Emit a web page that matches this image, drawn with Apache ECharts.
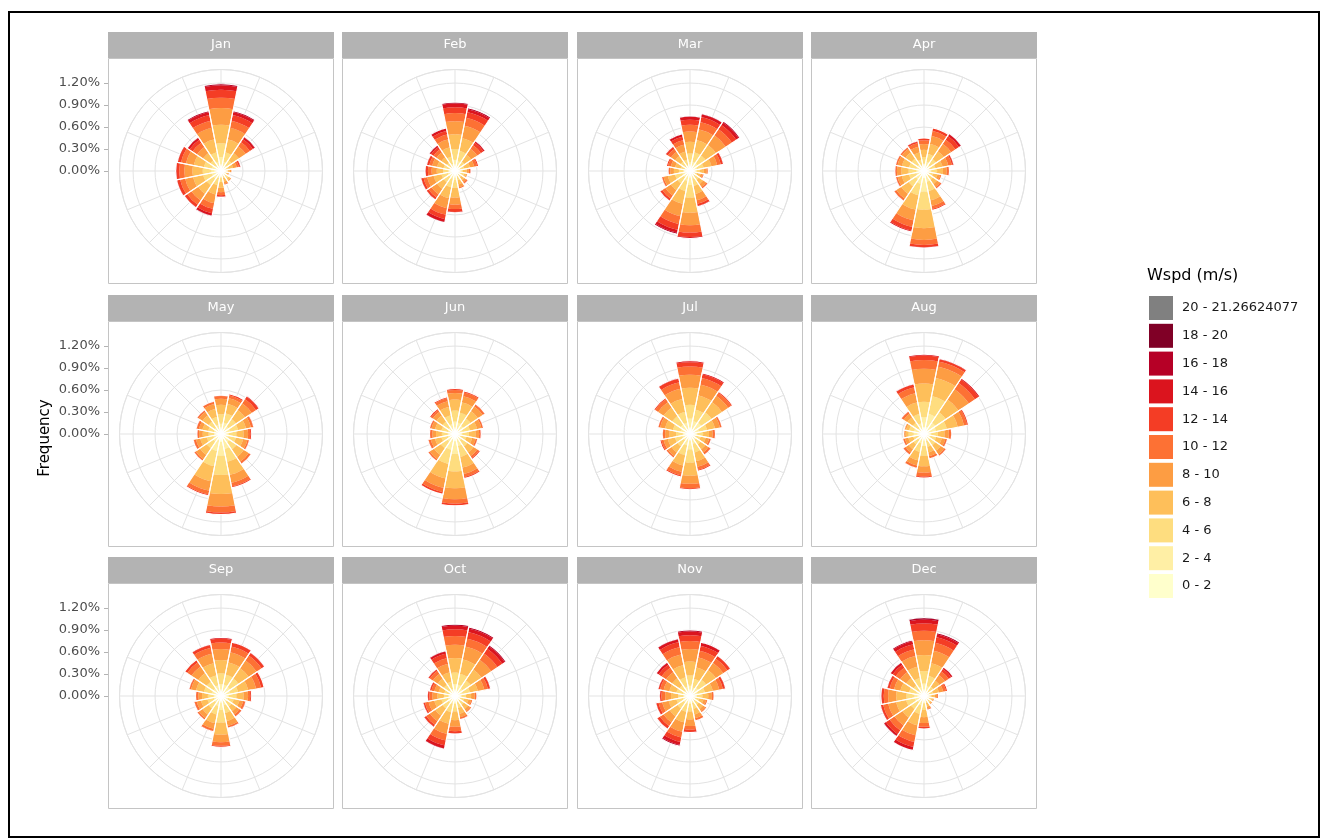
<!DOCTYPE html>
<html>
<head>
<meta charset="utf-8">
<script src="https://cdn.jsdelivr.net/npm/echarts@6/dist/echarts.min.js"></script>
<style>
html, body { margin: 0; padding: 0; background: #fff; }
#chart { width: 1322px; height: 838px; }
</style>
</head>
<body>
<div id="chart"></div>
<script>
// ---- data -------------------------------------------------------------
const months = ['Jan', 'Feb', 'Mar', 'Apr', 'May', 'Jun', 'Jul', 'Aug', 'Sep', 'Oct', 'Nov', 'Dec'];
const directions = ['N', 'NNE', 'NE', 'ENE', 'E', 'ESE', 'SE', 'SSE', 'S', 'SSW', 'SW', 'WSW', 'W', 'WNW', 'NW', 'NNW'];
const speedBins = ['0 - 2', '2 - 4', '4 - 6', '6 - 8', '8 - 10', '10 - 12', '12 - 14', '14 - 16', '16 - 18', '18 - 20', '20 - 21.26624077'];
const binColors = ['#FFFFCC', '#FFEFA5', '#FEDD7F', '#FEBF5A', '#FD9D43', '#FD7134', '#F43D25', '#DB141E', '#B60026', '#800026', '#808080'];
const radialTicks = [0, 0.3, 0.6, 0.9, 1.2]; // frequency, %

// Frequency (%) for each direction (N ... NNW); each row lists the speed bins
// from 0 - 2 upward, bins left out are empty.
const jan = [
  [0.07, 0.12, 0.19, 0.25, 0.23, 0.14, 0.11, 0.06, 0.02],
  [0.05, 0.08, 0.13, 0.18, 0.16, 0.10, 0.08, 0.04, 0.02],
  [0.03, 0.06, 0.09, 0.12, 0.11, 0.07, 0.05, 0.03, 0.01],
  [0.02, 0.04, 0.05, 0.06, 0.05, 0.03, 0.02, 0.01],
  [0.02, 0.03, 0.04, 0.03, 0.02, 0.01],
  [0.02, 0.03, 0.03, 0.02, 0.01, 0.01],
  [0.03, 0.05, 0.05, 0.03, 0.01, 0.01],
  [0.02, 0.03, 0.05, 0.05, 0.03, 0.01, 0.01],
  [0.03, 0.05, 0.07, 0.08, 0.06, 0.04, 0.02, 0.01],
  [0.04, 0.06, 0.10, 0.13, 0.12, 0.08, 0.06, 0.03, 0.01],
  [0.05, 0.08, 0.11, 0.14, 0.11, 0.07, 0.04, 0.01],
  [0.05, 0.08, 0.12, 0.14, 0.11, 0.07, 0.04, 0.01],
  [0.05, 0.08, 0.12, 0.14, 0.11, 0.07, 0.04, 0.01],
  [0.05, 0.08, 0.11, 0.14, 0.11, 0.07, 0.04, 0.01],
  [0.03, 0.06, 0.09, 0.12, 0.10, 0.07, 0.05, 0.03, 0.01],
  [0.05, 0.08, 0.13, 0.18, 0.16, 0.10, 0.08, 0.04, 0.02]
];
const feb = [
  [0.06, 0.09, 0.15, 0.20, 0.18, 0.11, 0.08, 0.05, 0.02],
  [0.05, 0.09, 0.14, 0.18, 0.17, 0.11, 0.08, 0.04, 0.02],
  [0.03, 0.05, 0.08, 0.11, 0.10, 0.06, 0.04, 0.02, 0.01],
  [0.03, 0.04, 0.06, 0.08, 0.06, 0.04, 0.02],
  [0.02, 0.04, 0.05, 0.05, 0.03, 0.02, 0.01],
  [0.03, 0.05, 0.05, 0.03, 0.01, 0.01],
  [0.02, 0.04, 0.05, 0.05, 0.03, 0.02, 0.01],
  [0.03, 0.04, 0.06, 0.06, 0.04, 0.02],
  [0.05, 0.07, 0.11, 0.13, 0.10, 0.06, 0.04, 0.01],
  [0.04, 0.07, 0.12, 0.15, 0.14, 0.09, 0.06, 0.04, 0.01],
  [0.04, 0.06, 0.09, 0.11, 0.09, 0.05, 0.03, 0.01],
  [0.04, 0.06, 0.09, 0.11, 0.09, 0.05, 0.03, 0.01],
  [0.03, 0.05, 0.08, 0.09, 0.07, 0.05, 0.03, 0.01],
  [0.03, 0.05, 0.08, 0.09, 0.07, 0.04, 0.03, 0.01],
  [0.03, 0.04, 0.07, 0.09, 0.08, 0.05, 0.04, 0.02, 0.01],
  [0.04, 0.06, 0.10, 0.13, 0.11, 0.07, 0.05, 0.03, 0.01]
];
const mar = [
  [0.05, 0.07, 0.12, 0.16, 0.14, 0.09, 0.07, 0.04, 0.01],
  [0.05, 0.08, 0.13, 0.17, 0.15, 0.10, 0.07, 0.04, 0.01],
  [0.05, 0.08, 0.13, 0.17, 0.16, 0.10, 0.07, 0.04, 0.02],
  [0.04, 0.06, 0.09, 0.11, 0.08, 0.05, 0.03, 0.01],
  [0.03, 0.04, 0.06, 0.06, 0.04, 0.02],
  [0.02, 0.03, 0.05, 0.05, 0.03, 0.01, 0.01],
  [0.03, 0.05, 0.07, 0.07, 0.05, 0.02, 0.01],
  [0.04, 0.07, 0.10, 0.11, 0.09, 0.05, 0.03, 0.01],
  [0.07, 0.12, 0.17, 0.21, 0.17, 0.10, 0.06, 0.02],
  [0.05, 0.09, 0.14, 0.18, 0.17, 0.11, 0.08, 0.04, 0.02],
  [0.04, 0.07, 0.10, 0.11, 0.09, 0.05, 0.03, 0.01],
  [0.04, 0.07, 0.10, 0.10, 0.06, 0.02, 0.01],
  [0.03, 0.05, 0.07, 0.07, 0.05, 0.02, 0.01],
  [0.03, 0.04, 0.06, 0.08, 0.06, 0.04, 0.02],
  [0.03, 0.05, 0.08, 0.09, 0.07, 0.05, 0.03, 0.01],
  [0.03, 0.05, 0.08, 0.11, 0.10, 0.06, 0.05, 0.03, 0.01]
];
const apr = [
  [0.04, 0.06, 0.09, 0.10, 0.08, 0.05, 0.03],
  [0.05, 0.08, 0.11, 0.14, 0.11, 0.07, 0.04],
  [0.04, 0.06, 0.10, 0.13, 0.12, 0.07, 0.06, 0.03, 0.01],
  [0.03, 0.05, 0.08, 0.10, 0.08, 0.05, 0.02, 0.01],
  [0.04, 0.06, 0.08, 0.08, 0.05, 0.03, 0.01],
  [0.03, 0.04, 0.06, 0.06, 0.04, 0.02],
  [0.03, 0.05, 0.07, 0.07, 0.05, 0.02, 0.01],
  [0.06, 0.09, 0.13, 0.13, 0.08, 0.04, 0.02],
  [0.10, 0.18, 0.25, 0.25, 0.16, 0.07, 0.03, 0.01],
  [0.07, 0.11, 0.16, 0.20, 0.15, 0.09, 0.05, 0.02],
  [0.05, 0.09, 0.12, 0.12, 0.08, 0.03, 0.01],
  [0.04, 0.07, 0.10, 0.10, 0.06, 0.02, 0.01],
  [0.04, 0.07, 0.10, 0.10, 0.06, 0.02, 0.01],
  [0.04, 0.07, 0.10, 0.10, 0.06, 0.02, 0.01],
  [0.04, 0.07, 0.10, 0.10, 0.06, 0.02, 0.01],
  [0.03, 0.05, 0.08, 0.10, 0.08, 0.05, 0.02, 0.01]
];
const may = [
  [0.05, 0.09, 0.13, 0.13, 0.08, 0.04, 0.01],
  [0.06, 0.10, 0.13, 0.13, 0.08, 0.04, 0.02],
  [0.05, 0.08, 0.12, 0.15, 0.11, 0.07, 0.04, 0.01],
  [0.05, 0.08, 0.11, 0.11, 0.07, 0.03, 0.01],
  [0.04, 0.07, 0.10, 0.10, 0.06, 0.03, 0.02],
  [0.04, 0.07, 0.10, 0.10, 0.06, 0.02, 0.01],
  [0.05, 0.09, 0.12, 0.12, 0.08, 0.03, 0.01],
  [0.08, 0.13, 0.18, 0.18, 0.11, 0.05, 0.02],
  [0.11, 0.19, 0.26, 0.26, 0.17, 0.08, 0.03],
  [0.09, 0.15, 0.21, 0.21, 0.13, 0.05, 0.02],
  [0.05, 0.08, 0.11, 0.11, 0.07, 0.02, 0.01],
  [0.04, 0.07, 0.09, 0.09, 0.06, 0.03, 0.01],
  [0.03, 0.06, 0.08, 0.08, 0.05, 0.02, 0.01],
  [0.04, 0.06, 0.08, 0.08, 0.05, 0.03, 0.01],
  [0.04, 0.07, 0.10, 0.10, 0.06, 0.02, 0.01],
  [0.05, 0.08, 0.11, 0.11, 0.07, 0.03, 0.01]
];
const jun = [
  [0.06, 0.11, 0.15, 0.15, 0.09, 0.04, 0.02],
  [0.06, 0.10, 0.14, 0.14, 0.09, 0.05, 0.02],
  [0.05, 0.09, 0.12, 0.12, 0.08, 0.03, 0.01],
  [0.04, 0.07, 0.10, 0.10, 0.06, 0.02, 0.01],
  [0.04, 0.06, 0.09, 0.09, 0.05, 0.02, 0.01],
  [0.03, 0.05, 0.08, 0.08, 0.05, 0.02, 0.01],
  [0.04, 0.07, 0.10, 0.10, 0.06, 0.03, 0.02],
  [0.06, 0.11, 0.15, 0.15, 0.09, 0.04, 0.02],
  [0.10, 0.17, 0.24, 0.23, 0.15, 0.06, 0.03],
  [0.08, 0.14, 0.20, 0.20, 0.13, 0.06, 0.03],
  [0.05, 0.08, 0.11, 0.11, 0.07, 0.02, 0.01],
  [0.04, 0.06, 0.09, 0.09, 0.06, 0.03, 0.01],
  [0.04, 0.06, 0.08, 0.08, 0.05, 0.03, 0.01],
  [0.04, 0.06, 0.09, 0.09, 0.05, 0.02, 0.01],
  [0.04, 0.07, 0.10, 0.10, 0.06, 0.03, 0.02],
  [0.05, 0.09, 0.12, 0.12, 0.08, 0.04, 0.02]
];
const jul = [
  [0.08, 0.13, 0.19, 0.23, 0.18, 0.11, 0.06, 0.02],
  [0.07, 0.11, 0.16, 0.20, 0.15, 0.09, 0.05, 0.02],
  [0.07, 0.12, 0.17, 0.17, 0.10, 0.05, 0.02],
  [0.05, 0.08, 0.11, 0.11, 0.07, 0.02, 0.01],
  [0.04, 0.06, 0.08, 0.08, 0.05, 0.03, 0.01],
  [0.03, 0.05, 0.07, 0.07, 0.05, 0.02, 0.01],
  [0.04, 0.06, 0.08, 0.08, 0.05, 0.03, 0.01],
  [0.05, 0.09, 0.12, 0.12, 0.08, 0.04, 0.02],
  [0.08, 0.13, 0.18, 0.18, 0.11, 0.06, 0.02],
  [0.06, 0.10, 0.14, 0.14, 0.09, 0.05, 0.02],
  [0.04, 0.07, 0.10, 0.10, 0.06, 0.02, 0.01],
  [0.04, 0.07, 0.10, 0.10, 0.06, 0.03, 0.02],
  [0.04, 0.06, 0.09, 0.09, 0.06, 0.03, 0.01],
  [0.05, 0.08, 0.11, 0.11, 0.07, 0.02, 0.01],
  [0.06, 0.10, 0.14, 0.14, 0.09, 0.05, 0.02],
  [0.06, 0.10, 0.15, 0.18, 0.14, 0.09, 0.05, 0.01]
];
const aug = [
  [0.09, 0.14, 0.21, 0.25, 0.20, 0.12, 0.06, 0.02],
  [0.10, 0.18, 0.25, 0.25, 0.16, 0.07, 0.03, 0.01],
  [0.07, 0.12, 0.17, 0.21, 0.17, 0.10, 0.06, 0.02],
  [0.06, 0.11, 0.15, 0.15, 0.09, 0.04, 0.02],
  [0.04, 0.06, 0.09, 0.09, 0.06, 0.03, 0.01],
  [0.03, 0.06, 0.08, 0.08, 0.05, 0.02, 0.01],
  [0.04, 0.06, 0.09, 0.09, 0.06, 0.02, 0.01],
  [0.04, 0.06, 0.08, 0.08, 0.05, 0.03, 0.01],
  [0.06, 0.10, 0.14, 0.14, 0.09, 0.05, 0.02],
  [0.05, 0.08, 0.12, 0.12, 0.07, 0.03, 0.01],
  [0.04, 0.06, 0.08, 0.08, 0.05, 0.03, 0.01],
  [0.03, 0.05, 0.07, 0.07, 0.05, 0.02, 0.01],
  [0.06, 0.08, 0.07, 0.04, 0.02, 0.01],
  [0.06, 0.08, 0.07, 0.04, 0.02, 0.01],
  [0.04, 0.06, 0.09, 0.09, 0.06, 0.03, 0.01],
  [0.06, 0.09, 0.13, 0.16, 0.13, 0.08, 0.04, 0.01]
];
const sep = [
  [0.06, 0.10, 0.15, 0.18, 0.15, 0.09, 0.05, 0.02],
  [0.06, 0.10, 0.14, 0.17, 0.14, 0.08, 0.05, 0.01],
  [0.06, 0.09, 0.14, 0.17, 0.13, 0.08, 0.04, 0.01],
  [0.05, 0.08, 0.11, 0.14, 0.11, 0.07, 0.04],
  [0.04, 0.07, 0.10, 0.10, 0.06, 0.03, 0.02],
  [0.04, 0.06, 0.08, 0.08, 0.05, 0.03, 0.01],
  [0.04, 0.06, 0.08, 0.08, 0.05, 0.03, 0.01],
  [0.05, 0.08, 0.11, 0.11, 0.07, 0.02, 0.01],
  [0.07, 0.12, 0.17, 0.17, 0.10, 0.05, 0.02],
  [0.05, 0.09, 0.12, 0.12, 0.08, 0.03, 0.01],
  [0.04, 0.07, 0.10, 0.10, 0.06, 0.02, 0.01],
  [0.04, 0.06, 0.09, 0.09, 0.06, 0.03, 0.01],
  [0.04, 0.06, 0.08, 0.08, 0.05, 0.03, 0.01],
  [0.05, 0.08, 0.11, 0.11, 0.07, 0.02, 0.01],
  [0.05, 0.08, 0.11, 0.14, 0.11, 0.07, 0.04],
  [0.06, 0.09, 0.14, 0.17, 0.13, 0.08, 0.04, 0.01]
];
const oct = [
  [0.06, 0.10, 0.16, 0.20, 0.18, 0.12, 0.09, 0.05, 0.02],
  [0.06, 0.10, 0.15, 0.20, 0.18, 0.11, 0.09, 0.05, 0.02],
  [0.05, 0.08, 0.13, 0.18, 0.16, 0.10, 0.08, 0.04, 0.02],
  [0.04, 0.07, 0.10, 0.11, 0.09, 0.05, 0.03, 0.01],
  [0.03, 0.05, 0.07, 0.07, 0.05, 0.02, 0.01],
  [0.03, 0.04, 0.06, 0.06, 0.04, 0.02],
  [0.03, 0.05, 0.07, 0.07, 0.04, 0.02],
  [0.03, 0.06, 0.08, 0.08, 0.05, 0.02, 0.01],
  [0.04, 0.07, 0.10, 0.12, 0.09, 0.06, 0.03, 0.01],
  [0.04, 0.07, 0.12, 0.16, 0.14, 0.09, 0.07, 0.04, 0.01],
  [0.04, 0.07, 0.10, 0.12, 0.09, 0.06, 0.03, 0.01],
  [0.04, 0.06, 0.09, 0.10, 0.08, 0.05, 0.02, 0.01],
  [0.03, 0.05, 0.07, 0.09, 0.07, 0.04, 0.02, 0.01],
  [0.03, 0.05, 0.07, 0.08, 0.06, 0.04, 0.02, 0.01],
  [0.04, 0.06, 0.09, 0.10, 0.08, 0.05, 0.02, 0.01],
  [0.04, 0.06, 0.10, 0.13, 0.12, 0.08, 0.06, 0.03, 0.01]
];
const nov = [
  [0.05, 0.09, 0.14, 0.19, 0.17, 0.11, 0.08, 0.05, 0.02],
  [0.05, 0.07, 0.12, 0.16, 0.14, 0.09, 0.07, 0.04, 0.01],
  [0.05, 0.09, 0.13, 0.16, 0.12, 0.07, 0.04, 0.01],
  [0.04, 0.07, 0.10, 0.11, 0.09, 0.05, 0.03, 0.01],
  [0.03, 0.06, 0.08, 0.08, 0.05, 0.02, 0.01],
  [0.03, 0.04, 0.06, 0.06, 0.04, 0.02],
  [0.03, 0.05, 0.07, 0.07, 0.04, 0.02],
  [0.04, 0.06, 0.08, 0.08, 0.05, 0.03, 0.01],
  [0.04, 0.07, 0.10, 0.11, 0.09, 0.05, 0.03, 0.01],
  [0.04, 0.07, 0.11, 0.15, 0.13, 0.08, 0.06, 0.04, 0.02],
  [0.04, 0.07, 0.10, 0.13, 0.10, 0.06, 0.04, 0.01],
  [0.04, 0.06, 0.09, 0.11, 0.09, 0.05, 0.03, 0.01],
  [0.03, 0.05, 0.08, 0.10, 0.08, 0.05, 0.02, 0.01],
  [0.04, 0.06, 0.09, 0.10, 0.08, 0.05, 0.02, 0.01],
  [0.03, 0.06, 0.09, 0.12, 0.10, 0.07, 0.05, 0.03, 0.01],
  [0.05, 0.08, 0.13, 0.17, 0.15, 0.10, 0.07, 0.04, 0.01]
];
const dec = [
  [0.06, 0.11, 0.17, 0.22, 0.20, 0.13, 0.10, 0.05, 0.02, 0.01],
  [0.05, 0.09, 0.14, 0.18, 0.17, 0.11, 0.08, 0.04, 0.02],
  [0.03, 0.05, 0.08, 0.10, 0.09, 0.06, 0.04, 0.02, 0.01],
  [0.03, 0.04, 0.06, 0.08, 0.06, 0.04, 0.02],
  [0.02, 0.03, 0.05, 0.05, 0.03, 0.01, 0.01],
  [0.03, 0.04, 0.04, 0.02, 0.01, 0.01],
  [0.03, 0.04, 0.04, 0.02, 0.01, 0.01],
  [0.02, 0.03, 0.05, 0.05, 0.03, 0.01, 0.01],
  [0.04, 0.06, 0.09, 0.10, 0.08, 0.05, 0.02, 0.01],
  [0.05, 0.08, 0.12, 0.16, 0.14, 0.09, 0.07, 0.04, 0.01],
  [0.04, 0.07, 0.11, 0.14, 0.13, 0.08, 0.06, 0.03, 0.01],
  [0.05, 0.08, 0.12, 0.14, 0.11, 0.07, 0.03, 0.01],
  [0.05, 0.08, 0.11, 0.14, 0.11, 0.06, 0.03, 0.01],
  [0.04, 0.07, 0.10, 0.12, 0.09, 0.06, 0.03, 0.01],
  [0.03, 0.06, 0.09, 0.12, 0.10, 0.07, 0.05, 0.03, 0.01],
  [0.05, 0.08, 0.12, 0.16, 0.15, 0.09, 0.07, 0.04, 0.02]
];
const monthData = [jan, feb, mar, apr, may, jun, jul, aug, sep, oct, nov, dec];

// ---- layout -----------------------------------------------------------
const FONT = "'DejaVu Sans', Verdana, sans-serif";
const colX = [221, 455, 690, 924];   // panel centres
const rowY = [171, 434, 696];
const HALF = 113;                    // half panel size
const STRIP_H = 26;
const R = 101.5;                     // outer grid circle radius (px)
const R_MAX = 1.385;                 // radial value at the outer circle
const GRID_COLOR = '#E3E3E3';
const tickStep = radialTicks[1] - radialTicks[0];
const tickTop = radialTicks[radialTicks.length - 1];

const polar = [], angleAxis = [], radiusAxis = [], series = [], graphic = [];

// frame round the whole figure
graphic.push({
  type: 'rect', silent: true, z: 100,
  shape: { x: 9, y: 12, width: 1310, height: 825 },
  style: { fill: null, stroke: '#000', lineWidth: 2 }
});

months.forEach((m, i) => {
  const cx = colX[i % 4], cy = rowY[Math.floor(i / 4)];

  // panel box and facet strip
  graphic.push({
    type: 'rect', silent: true, z: -10,
    shape: { x: cx - HALF + 0.5, y: cy - HALF + 0.5, width: 2 * HALF - 1, height: 2 * HALF - 1 },
    style: { fill: null, stroke: '#C4C4C4', lineWidth: 1 }
  });
  graphic.push({
    type: 'rect', silent: true, z: -10,
    shape: { x: cx - HALF, y: cy - HALF - STRIP_H, width: 2 * HALF, height: STRIP_H },
    style: { fill: '#B3B3B3' }
  });
  graphic.push({
    type: 'text', silent: true, z: -9,
    x: cx, y: cy - HALF - STRIP_H / 2,
    style: { text: m, fill: '#FFFFFF', font: '13px ' + FONT, textAlign: 'center', textVerticalAlign: 'middle' }
  });
});

// polar grids: spokes every 22.5 degrees and rings at the radial ticks
months.forEach((m, i) => {
  const cx = colX[i % 4], cy = rowY[Math.floor(i / 4)];
  polar.push({ center: [cx, cy], radius: R });
  angleAxis.push({
    polarIndex: i, type: 'value', min: 0, max: 360, interval: 22.5,
    startAngle: 90, clockwise: true, silent: true,
    axisLine: { show: true, lineStyle: { color: GRID_COLOR, width: 1 } },
    axisTick: { show: false }, axisLabel: { show: false },
    splitLine: { show: true, lineStyle: { color: GRID_COLOR, width: 1 } }
  });
  radiusAxis.push({
    polarIndex: i, type: 'value', min: 0, max: R_MAX, interval: tickStep, silent: true,
    axisLine: { show: false }, axisTick: { show: false }, axisLabel: { show: false },
    splitLine: { show: true, lineStyle: { color: GRID_COLOR, width: 1 } }
  });
});

// polar systems carrying the stacked direction bars
months.forEach((m, i) => {
  const cx = colX[i % 4], cy = rowY[Math.floor(i / 4)];
  const p = 12 + i;
  polar.push({ center: [cx, cy], radius: R });
  angleAxis.push({
    polarIndex: p, type: 'category', data: directions,
    startAngle: 90 + 360 / directions.length / 2, clockwise: true, silent: true,
    axisLine: { show: false }, axisTick: { show: false }, axisLabel: { show: false },
    splitLine: { show: false }
  });
  radiusAxis.push({
    polarIndex: p, type: 'value', min: 0, max: R_MAX, silent: true,
    axisLine: { show: false }, axisTick: { show: false }, axisLabel: { show: false },
    splitLine: { show: false }
  });

  const rows = monthData[i];
  speedBins.forEach((bin, b) => {
    series.push({
      type: 'bar', coordinateSystem: 'polar', polarIndex: p,
      name: bin, stack: 'month' + i,
      data: rows.map(r => r[b] || 0),
      itemStyle: { color: binColors[b] },
      barCategoryGap: '0%', barGap: '-100%',
      silent: true, animation: false, z: 2
    });
  });
  // thin white separators between neighbouring direction bars
  series.push({
    type: 'bar', coordinateSystem: 'polar', polarIndex: p,
    name: 'sep' + i,
    data: rows.map(r => r.reduce((s, v) => s + v, 0)),
    itemStyle: { color: 'rgba(255,255,255,0)', borderColor: '#FFFFFF', borderWidth: 1.1 },
    barCategoryGap: '0%', barGap: '-100%',
    silent: true, animation: false, z: 3
  });
});

// radial scale labels on the left of each row
const tickSpan = R * tickTop / R_MAX;
const grid = rowY.map(cy => ({ left: colX[0] - HALF, width: 2 * HALF, top: cy - tickSpan, height: tickSpan }));
const xAxis = rowY.map((_, k) => ({ gridIndex: k, type: 'value', show: false }));
const yAxis = rowY.map((_, k) => ({
  gridIndex: k, type: 'value', min: radialTicks[0], max: tickTop, interval: tickStep,
  axisLine: { show: false },
  axisTick: { show: true, length: 4, lineStyle: { color: '#B3B3B3', width: 1 } },
  axisLabel: { formatter: v => v.toFixed(2) + '%', color: '#4D4D4D', fontSize: 13, fontFamily: FONT, margin: 8 },
  splitLine: { show: false }
}));

graphic.push({
  type: 'text', silent: true,
  x: 45, y: 438, rotation: Math.PI / 2,
  style: { text: 'Frequency', fill: '#000', font: '15px ' + FONT, textAlign: 'center', textVerticalAlign: 'middle' }
});
graphic.push({
  type: 'text', silent: true,
  x: 1147, y: 276,
  style: { text: 'Wspd (m/s)', fill: '#000', font: '16px ' + FONT, textAlign: 'left', textVerticalAlign: 'middle' }
});

const option = {
  animation: false,
  backgroundColor: '#FFFFFF',
  textStyle: { fontFamily: FONT },
  polar, angleAxis, radiusAxis,
  grid, xAxis, yAxis,
  legend: {
    orient: 'vertical', left: 1149, top: 296, padding: 0,
    itemWidth: 24, itemHeight: 24, itemGap: 3.8,
    icon: 'rect', selectedMode: false,
    data: speedBins.slice().reverse(),
    textStyle: { fontSize: 13, color: '#1A1A1A', fontFamily: FONT, padding: [0, 0, 0, 4] }
  },
  graphic,
  series
};

const chart = echarts.init(document.getElementById('chart'));
chart.setOption(option);
</script>
</body>
</html>
